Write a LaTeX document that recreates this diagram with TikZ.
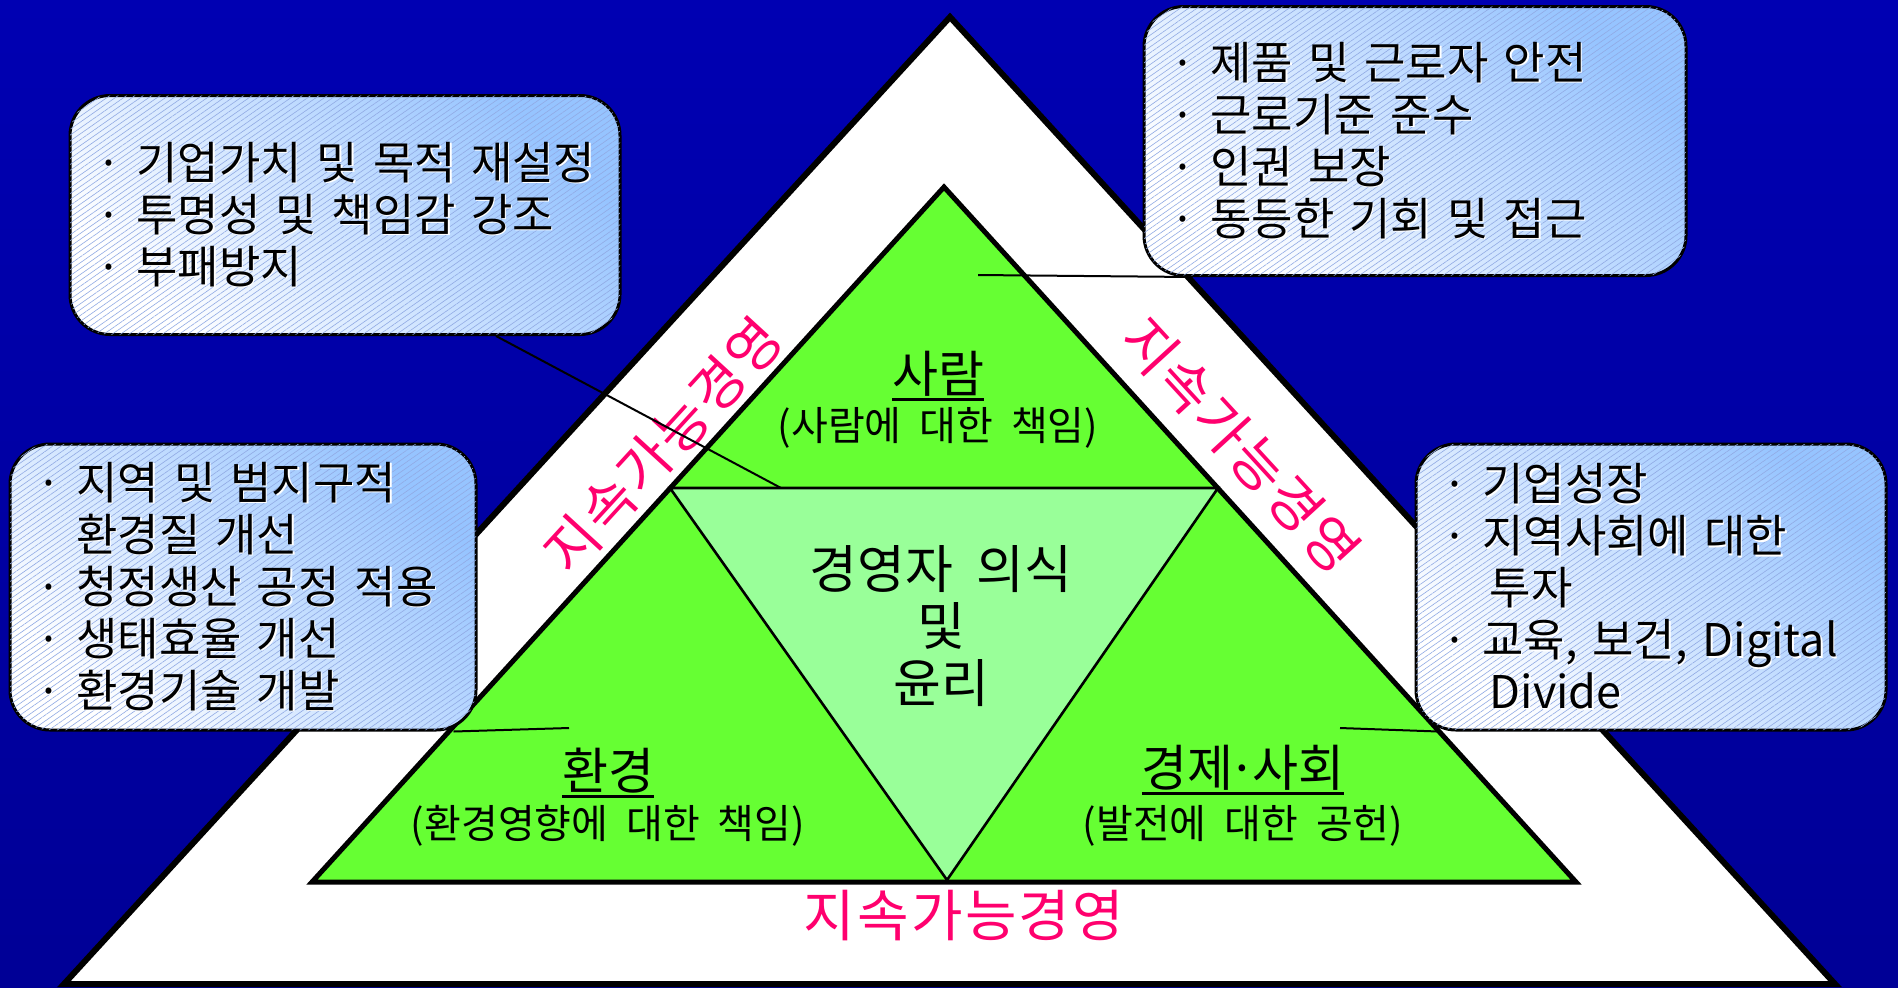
\documentclass[tikz,border=0pt]{standalone}
\usepackage{fontspec}
\setmainfont{Noto Sans CJK KR}[WordSpace=3.4]
\newfontfamily\krtitle{Noto Sans CJK KR}
\newfontfamily\krsub{Noto Sans CJK KR}[WordSpace=3.3]
\newfontfamily\krmid{Noto Sans CJK KR}[WordSpace=2]
\newfontfamily\krpink{Noto Sans CJK KR}[LetterSpace=4]
\newcommand\ulbar[1]{\vtop{\hbox{#1}\kern0.6pt\hrule height 1.4pt}}
\newcommand\bxl[1]{\mbox{\rlap{\kern0.7pt\raisebox{-0.7pt}{\textcolor{white}{#1}}}#1}}
\usetikzlibrary{patterns.meta}
\definecolor{bgtop}{RGB}{0,0,178}
\definecolor{bgbot}{RGB}{0,0,150}
\definecolor{grn}{RGB}{102,255,51}
\definecolor{lgrn}{RGB}{153,255,153}
\definecolor{pinkc}{RGB}{255,0,110}
\definecolor{boxblue}{RGB}{150,196,255}
\definecolor{hatchc}{RGB}{145,170,228}
\begin{document}
\begin{tikzpicture}[x=0.5pt,y=-0.5pt,
  bx/.style={draw=black, line width=1.5pt, rounded corners=20pt,
    top color=boxblue, bottom color=white, shading angle=-45,
    postaction={pattern={Lines[angle=35,distance=2.4pt,line width=0.3pt]}, pattern color=hatchc},
    align=left, inner xsep=13pt, inner ysep=0pt,
    font=\fontsize{22.5}{26}\selectfont},
  ttl/.style={font=\krtitle\fontsize{25}{28}\selectfont, inner sep=0pt},
  subl/.style={font=\krsub\fontsize{20}{24}\selectfont, inner sep=0pt},
  midl/.style={font=\krmid\fontsize{26}{28.5}\selectfont, align=center, inner sep=0pt},
  pk/.style={font=\krpink\fontsize{28}{30}\selectfont, text=pinkc, inner sep=0pt},
  ptr/.style={line width=1pt, draw=black}
]
\useasboundingbox (0,0) rectangle (1898,987);
\shade[top color=bgtop,bottom color=bgbot] (0,0) rectangle (1898,987);

% triangles
\coordinate (oA) at (950,17);
\coordinate (oL) at (64,984);
\coordinate (oR) at (1835,984);
\coordinate (gA) at (944,187);
\coordinate (gL) at (312,882);
\coordinate (gR) at (1576,882);
\coordinate (iL) at (670,488);
\coordinate (iR) at (1218,488);
\coordinate (iB) at (947,880);

\draw[line width=3pt, fill=white] (oA) -- (oR) -- (oL) -- cycle;
\draw[line width=2.5pt, fill=grn] (gA) -- (gR) -- (gL) -- cycle;
\draw[line width=1.3pt, fill=lgrn] (iL) -- (iR) -- (iB) -- cycle;

% labels in triangles
\node[ttl] (tp) at (938,376) {\ulbar{사람}};
\node[subl] (sp) at (938,428) {(사람에 대한 책임)};
\node[ttl] (te) at (608,773) {\ulbar{환경}};
\node[subl] (se) at (608,826) {(환경영향에 대한 책임)};
\node[ttl] (ts) at (1243,770) {\ulbar{경제\kern-0.1em·\kern-0.1em사회}};
\node[subl] (ss) at (1243,826) {(발전에 대한 공헌)};
\node[midl] (ce) at (941,626) {경영자 의식\\및\\윤리};

% pink labels
\node[pk] (pb) at (964,916) {지속가능경영};
\node[pk, rotate=47.5] (pl) at (663,445) {지속가능경영};
\node[pk, rotate=-47.5] (pr) at (1241,445) {지속가능경영};

% boxes
\node[bx, text width=249pt, minimum height=119.5pt] (b1) at (345,215)
  {\bxl{· 기업가치 및 목적 재설정}\\\bxl{· 투명성 및 책임감 강조}\\\bxl{· 부패방지}};
\node[bx, text width=245pt, minimum height=134.5pt] (b2) at (1415,141)
  {\bxl{· 제품 및 근로자 안전}\\\bxl{· 근로기준 준수}\\\bxl{· 인권 보장}\\\bxl{· 동등한 기회 및 접근}};
\node[bx, text width=207pt, minimum height=143pt] (b3) at (243,587)
  {\bxl{· 지역 및 범지구적}\\\bxl{\hphantom{·\ }환경질 개선}\\\bxl{· 청정생산 공정 적용}\\\bxl{· 생태효율 개선}\\\bxl{· 환경기술 개발}};
\node[bx, text width=209pt, minimum height=143pt] (b4) at (1651,587)
  {\bxl{· 기업성장}\\\bxl{· 지역사회에 대한}\\\bxl{\hphantom{·\ }\,투자}\\\bxl{· 교육, 보건, Digital}\\\bxl{\hphantom{·\ }\,Divide}};

% pointers
\coordinate (t1) at (781,488);
\coordinate (t2) at (978,275);
\coordinate (t3) at (569,728);
\coordinate (t4) at (1340,728);
\draw[ptr] ([xshift=75.5pt]b1.south) -- (t1);
\draw[ptr] ([xshift=25pt]b2.south west) -- (t2);
\draw[ptr] ([xshift=-12pt]b3.south east) -- (t3);
\draw[ptr] ([xshift=12pt]b4.south west) -- (t4);
\end{tikzpicture}
\end{document}
